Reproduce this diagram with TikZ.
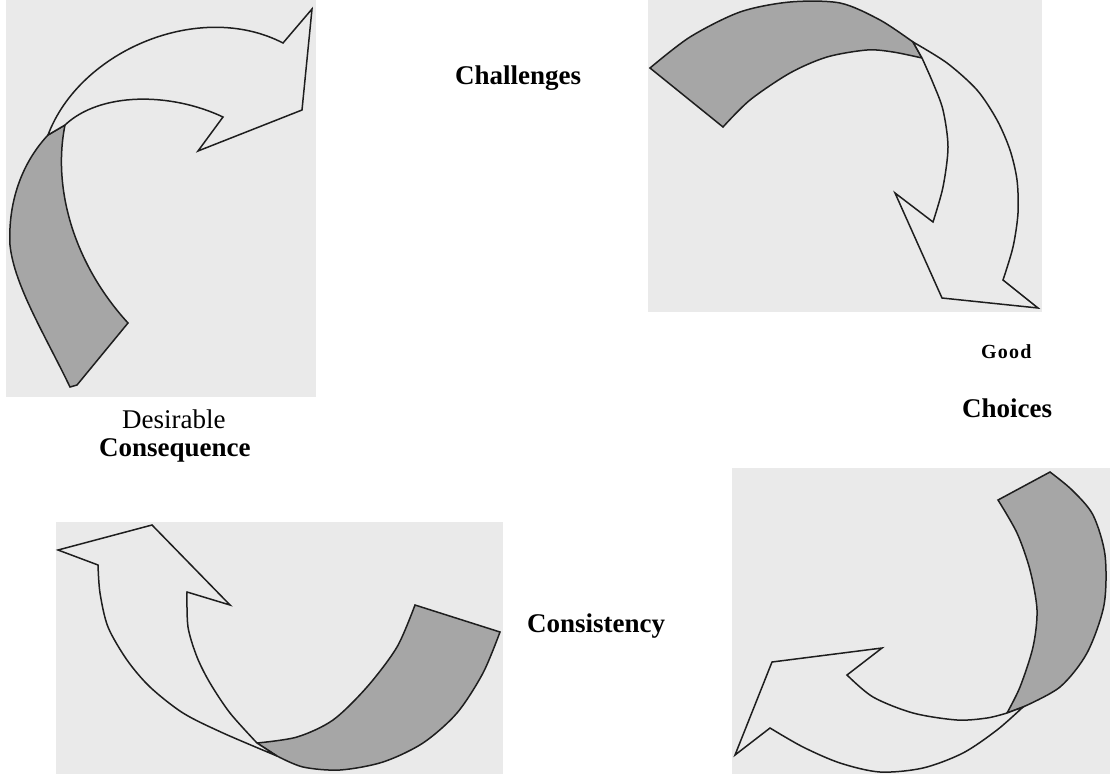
\documentclass[tikz,border=0pt]{standalone}
\usepackage{fontspec}
\setmainfont{Liberation Serif}
\definecolor{panelbg}{RGB}{234,234,234}
\definecolor{tailfill}{RGB}{166,166,166}
\definecolor{inkline}{RGB}{30,30,30}
\begin{document}
\begin{tikzpicture}[x=1pt,y=-1pt,
  panel/.style={fill=panelbg,draw=none},
  tailpart/.style={fill=tailfill,draw=inkline,line width=1.5pt,line join=miter},
  headpart/.style={fill=panelbg,draw=inkline,line width=1.5pt,line join=miter},
  boldlabel/.style={font=\fontsize{27}{30}\selectfont\bfseries,inner sep=0pt,anchor=base west},
  plainlabel/.style={font=\fontsize{27}{30}\selectfont,inner sep=0pt,anchor=base west},
  smalllabel/.style={font=\fontsize{20}{24}\selectfont\bfseries\addfontfeature{LetterSpace=6},inner sep=0pt,anchor=base west}]
\useasboundingbox (0,0) rectangle (1115,774);
\fill[white] (0,0) rectangle (1115,774);

% scanned panels
\fill[panel] (6,0) rectangle (316,397);
\fill[panel] (648,0) rectangle (1042,312);
\fill[panel] (56,522) rectangle (503,774);
\fill[panel] (732,468) rectangle (1110,774);

% top-left arrow: shaded tail, then the head bending to the right
\filldraw[tailpart] (48,135) .. controls (20,165) and (8,205) .. (10,245)
  .. controls (14,285) and (45,335) .. (70,387)
  -- (77,385) -- (128,323)
  .. controls (75,265) and (52,190) .. (65,125) -- cycle;
\filldraw[headpart] (48,135) .. controls (80,50) and (200,0) .. (283,43)
  -- (312,9) -- (302,110) -- (198,151) -- (223,117)
  .. controls (170,92) and (100,92) .. (65,125) -- cycle;

% top-right arrow
\filldraw[tailpart] plot[smooth] coordinates {(650,68) (690,37) (740,12) (790,2) (840,3) (880,20) (913,42)}
  -- (922,58)
  -- plot[smooth] coordinates {(922,58) (893,52) (867,50) (827,57) (790,73) (750,100) (723,127)} -- cycle;
\filldraw[headpart] plot[smooth] coordinates {(913,42) (947,63) (977,90) (997,120) (1010,150) (1017,180) (1018,213) (1013,247) (1003,280)}
  -- (1038,308) -- (942,298) -- (895,193) -- (933,222)
  -- plot[smooth] coordinates {(933,222) (943,187) (948,147) (943,110) (933,83) (922,58)} -- cycle;

% bottom-left arrow
\filldraw[tailpart] (415,605) -- (500,632)
  -- plot[smooth] coordinates {(500,632) (483,673) (457,713) (423,743) (383,762) (340,770) (303,767) (277,756)}
  -- (257,743)
  -- plot[smooth] coordinates {(257,743) (297,737) (333,720) (367,687) (397,647) (415,605)} -- cycle;
\filldraw[headpart] plot[smooth] coordinates {(277,756) (223,733) (183,713) (150,687) (127,660) (108,627) (100,593) (98,565)}
  -- (58,550) -- (152,525) -- (230,605) -- (187,592)
  -- plot[smooth] coordinates {(187,592) (188,627) (197,657) (210,683) (230,713) (257,743)} -- cycle;

% bottom-right arrow
\filldraw[tailpart] plot[smooth] coordinates {(1050,472) (1072,490) (1093,515) (1105,555) (1104,605) (1087,653) (1060,687) (1023,707)}
  -- (1007,713)
  -- plot[smooth] coordinates {(1007,713) (1020,687) (1033,647) (1037,610) (1030,570) (1017,533) (998,500)} -- cycle;
\filldraw[headpart] plot[smooth] coordinates {(1023,707) (997,730) (963,753) (923,768) (880,772) (840,763) (803,747) (770,728)}
  -- (735,755) -- (772,662) -- (882,648) -- (847,675)
  -- plot[smooth] coordinates {(847,675) (873,697) (913,713) (957,720) (987,718) (1007,713)} -- cycle;

% labels
\node[boldlabel] (challenges) at (455,84) {Challenges};
\node[smalllabel] (good) at (981,358) {Good};
\node[boldlabel] (choices) at (962,417) {Choices};
\node[plainlabel] (desirable) at (122,428) {Desirable};
\node[boldlabel] (consequence) at (99,456) {Consequence};
\node[boldlabel] (consistency) at (527,632) {Consistency};
\end{tikzpicture}
\end{document}
